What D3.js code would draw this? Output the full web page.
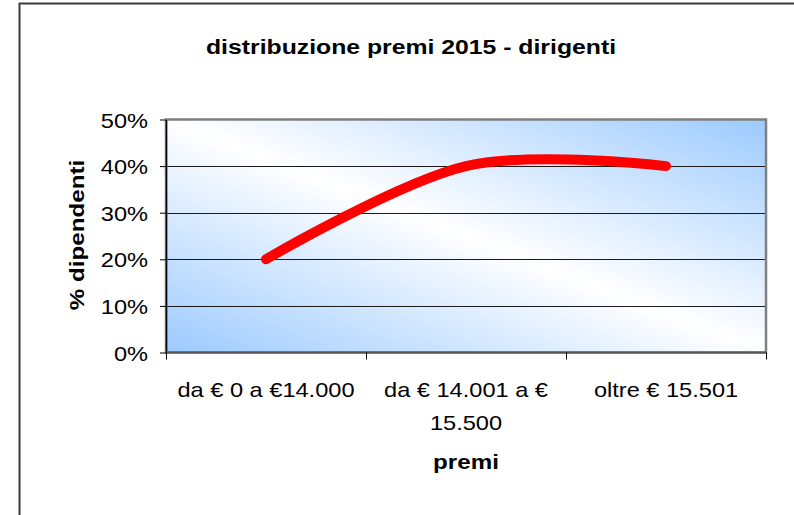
<!DOCTYPE html>
<html><head><meta charset="utf-8">
<script src="https://cdn.jsdelivr.net/npm/d3@7"></script>
<style>html,body{margin:0;padding:0;background:#fff;overflow:hidden}</style>
</head><body>
<svg id="c" width="794" height="515"></svg>
<script>
const title = "distribuzione premi 2015 - dirigenti";
const categories = ["da € 0 a €14.000", "da € 14.001 a € 15.500", "oltre € 15.501"];
const values = [0.20, 0.40, 0.40];
const yTicks = [0, 0.1, 0.2, 0.3, 0.4, 0.5];
const xTitle = "premi";
const yTitle = "% dipendenti";

const SX = 1.18; // wide font rendering
const FONT = "'Liberation Sans', Arial, sans-serif";
const svg = d3.select("#c");
const plot = {left: 166, right: 766, top: 119.5, bottom: 352.5};

const x = d3.scaleBand().domain(categories).range([plot.left, plot.right]);
const y = d3.scaleLinear().domain([0, 0.5]).range([plot.bottom, plot.top]);
const fmt = d3.format(".0%");

function label(g, txt, px, py, size, weight, anchor, rot) {
  return g.append("text")
    .attr("transform", `translate(${px},${py})` + (rot ? ` rotate(${rot})` : "") + ` scale(${SX},1)`)
    .attr("text-anchor", anchor)
    .style("font-family", FONT).style("font-size", size + "px").style("font-weight", weight)
    .attr("fill", "#000").text(txt);
}

// outer frame (left & top only visible)
svg.append("line").attr("x1", 19.5).attr("x2", 19.5).attr("y1", 3).attr("y2", 515).attr("stroke", "#3a3a3a").attr("stroke-width", 2);
svg.append("line").attr("x1", 19).attr("x2", 794).attr("y1", 3.5).attr("y2", 3.5).attr("stroke", "#3a3a3a").attr("stroke-width", 2);

// gradient background
const defs = svg.append("defs");
const grad = defs.append("linearGradient").attr("id", "bg")
  .attr("x1", 0).attr("y1", 1).attr("x2", 1).attr("y2", 0);
grad.append("stop").attr("offset", "0%").attr("stop-color", "#9ccaff");
grad.append("stop").attr("offset", "50%").attr("stop-color", "#ffffff");
grad.append("stop").attr("offset", "100%").attr("stop-color", "#9ccaff");

svg.append("rect").attr("x", plot.left).attr("y", plot.top)
  .attr("width", plot.right - plot.left).attr("height", plot.bottom - plot.top)
  .attr("fill", "url(#bg)");

// gridlines
svg.append("g").selectAll("line").data(yTicks.filter(d => d > 0 && d < 0.5)).join("line")
  .attr("x1", plot.left).attr("x2", plot.right)
  .attr("y1", d => Math.round(y(d)) + 0.5).attr("y2", d => Math.round(y(d)) + 0.5)
  .attr("stroke", "#1a1a1a").attr("stroke-width", 1);

// plot border
svg.append("rect").attr("x", plot.left).attr("y", plot.top)
  .attr("width", plot.right - plot.left).attr("height", plot.bottom - plot.top)
  .attr("fill", "none").attr("stroke", "#808080").attr("stroke-width", 2.5);

// y axis
const yAxis = svg.append("g").attr("transform", `translate(${plot.left},0)`)
  .call(d3.axisLeft(y).tickValues(yTicks).tickSize(6).tickSizeOuter(0).tickFormat(""));
yAxis.select(".domain").attr("stroke", "#000").attr("stroke-width", 1.5);
yAxis.selectAll(".tick line").attr("stroke", "#000");
const gl = svg.append("g");
yTicks.forEach(t => label(gl, fmt(t), 148, y(t) + 8, 20, "normal", "end"));

// x axis
const xTickPos = categories.map(c => x(c)).concat([plot.right]);
const xAxisG = svg.append("g").attr("transform", `translate(0,${plot.bottom})`);
xAxisG.append("line").attr("x1", plot.left).attr("x2", plot.right).attr("y1", 0).attr("y2", 0)
  .attr("stroke", "#555").attr("stroke-width", 2);
xAxisG.selectAll(".xt").data(xTickPos).join("line").attr("class", "xt")
  .attr("x1", d => Math.round(d) + 0.5).attr("x2", d => Math.round(d) + 0.5)
  .attr("y1", 0).attr("y2", 7).attr("stroke", "#000");

// category labels with wrapping
const maxW = x.bandwidth() - 8;
categories.forEach(c => {
  const cx = x(c) + x.bandwidth() / 2;
  const words = c.split(" ");
  const lines = [];
  let cur = "";
  const probe = label(svg, "", -1000, -1000, 20, "normal", "start");
  words.forEach(w => {
    const test = cur ? cur + " " + w : w;
    probe.text(test);
    if (probe.node().getComputedTextLength() * SX > maxW && cur) { lines.push(cur); cur = w; }
    else cur = test;
  });
  lines.push(cur);
  probe.remove();
  lines.forEach((ln, i) => label(svg, ln, cx, 397 + i * 33, 20, "normal", "middle"));
});

// line
const line = d3.line().x((d, i) => x(categories[i]) + x.bandwidth() / 2).y(d => y(d))
  .curve(d3.curveCardinal.tension(0));
svg.append("path").datum(values).attr("d", line)
  .attr("fill", "none").attr("stroke", "#ff0000").attr("stroke-width", 10)
  .attr("stroke-linecap", "round").attr("stroke-linejoin", "round");

// titles
label(svg, title, 411, 54, 21, "bold", "middle");
label(svg, xTitle, 466, 469, 20.5, "bold", "middle");
label(svg, yTitle, 84, 235, 20.5, "bold", "middle", -90);
</script>
</body></html>
